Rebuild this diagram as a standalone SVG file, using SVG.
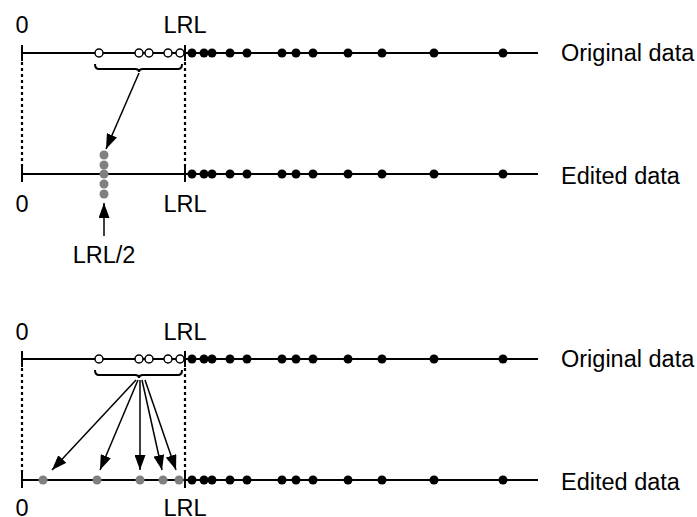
<svg xmlns="http://www.w3.org/2000/svg" width="697" height="517" viewBox="0 0 697 517">
<defs>
<style>
.ax{stroke:#000;stroke-width:2;fill:none}
.dash{stroke:#000;stroke-width:2.2;stroke-dasharray:3 3;fill:none}
.fd{fill:#000}
.op{fill:#fff;stroke:#000;stroke-width:1.5}
.gr{fill:#808080}
.arr{stroke:#000;stroke-width:1.5;fill:none;marker-end:url(#ah)}
.t{font-family:"Liberation Sans",Arial,sans-serif;font-size:23.5px;fill:#000}
.m{text-anchor:middle}
</style>
<marker id="ah" viewBox="0 0 15 11" refX="15" refY="5.5" markerWidth="15" markerHeight="11" markerUnits="userSpaceOnUse" orient="auto">
<path d="M0,0 L15,5.5 L0,11 Z" fill="#000"/>
</marker>
<g id="fill">
<circle class="fd" cx="192" cy="0" r="4.5"/>
<circle class="fd" cx="204" cy="0" r="4.5"/>
<circle class="fd" cx="212" cy="0" r="4.5"/>
<circle class="fd" cx="230" cy="0" r="4.5"/>
<circle class="fd" cx="247" cy="0" r="4.5"/>
<circle class="fd" cx="282" cy="0" r="4.5"/>
<circle class="fd" cx="296" cy="0" r="4.5"/>
<circle class="fd" cx="313" cy="0" r="4.5"/>
<circle class="fd" cx="348" cy="0" r="4.5"/>
<circle class="fd" cx="382" cy="0" r="4.5"/>
<circle class="fd" cx="434" cy="0" r="4.5"/>
<circle class="fd" cx="503" cy="0" r="4.5"/>
</g>
<g id="open">
<circle class="op" cx="99" cy="0" r="4"/>
<circle class="op" cx="139" cy="0" r="4"/>
<circle class="op" cx="149" cy="0" r="4"/>
<circle class="op" cx="168" cy="0" r="4"/>
<circle class="op" cx="180" cy="0" r="4"/>
</g>
</defs>
<rect width="697" height="517" fill="#fff"/>

<!-- Panel 1 -->
<g id="panel1-original">
<line class="ax" x1="22" y1="53" x2="538" y2="53"/>
<line class="ax" x1="22" y1="45" x2="22" y2="61"/>
<line class="ax" x1="185" y1="45" x2="185" y2="61"/>
<use href="#open" y="53"/>
<use href="#fill" y="53"/>
<text class="t m" x="22" y="33">0</text>
<text class="t m" x="185" y="33">LRL</text>
<text class="t" x="561" y="61">Original data</text>
</g>
<g id="panel1-brace">
<path class="ax" stroke-width="1.5" d="M95,64 Q95,69 99,69 L135,69 Q139,69 139,72 Q139,69 143,69 L178,69 Q182,69 182,64"/>
</g>
<g id="panel1-edited">
<line class="ax" x1="22" y1="174" x2="538" y2="174"/>
<line class="ax" x1="22" y1="166" x2="22" y2="182"/>
<line class="ax" x1="185" y1="166" x2="185" y2="182"/>
<use href="#fill" y="174"/>
<circle class="gr" cx="104" cy="155" r="4.5"/>
<circle class="gr" cx="104" cy="165" r="4.5"/>
<circle class="gr" cx="104" cy="174" r="4.5"/>
<circle class="gr" cx="104" cy="184" r="4.5"/>
<circle class="gr" cx="104" cy="194" r="4.5"/>
<text class="t m" x="22" y="212">0</text>
<text class="t m" x="185" y="212">LRL</text>
<text class="t" x="561" y="184">Edited data</text>
</g>
<g id="panel1-half">
<text class="t m" x="104" y="263">LRL/2</text>
</g>

<!-- Panel 2 -->
<g id="panel2-original">
<line class="ax" x1="22" y1="359" x2="538" y2="359"/>
<line class="ax" x1="22" y1="351" x2="22" y2="367"/>
<line class="ax" x1="185" y1="351" x2="185" y2="367"/>
<use href="#open" y="359"/>
<use href="#fill" y="359"/>
<text class="t m" x="22" y="340">0</text>
<text class="t m" x="185" y="340">LRL</text>
<text class="t" x="561" y="367">Original data</text>
</g>
<g id="panel2-brace">
<path class="ax" stroke-width="1.5" d="M95,370 Q95,375 99,375 L135,375 Q139,375 139,378 Q139,375 143,375 L178,375 Q182,375 182,370"/>
</g>
<g id="panel2-edited">
<line class="ax" x1="22" y1="480" x2="538" y2="480"/>
<line class="ax" x1="22" y1="472" x2="22" y2="488"/>
<line class="ax" x1="185" y1="472" x2="185" y2="488"/>
<use href="#fill" y="480"/>
<circle class="gr" cx="43" cy="480" r="4.5"/>
<circle class="gr" cx="97" cy="480" r="4.5"/>
<circle class="gr" cx="140" cy="480" r="4.5"/>
<circle class="gr" cx="163" cy="480" r="4.5"/>
<circle class="gr" cx="179" cy="480" r="4.5"/>
<text class="t m" x="22" y="516">0</text>
<text class="t m" x="185" y="516">LRL</text>
<text class="t" x="561" y="490">Edited data</text>
</g>

<!-- Connectors -->
<g id="connectors">
<line class="dash" x1="22" y1="62" x2="22" y2="166"/>
<line class="dash" x1="185" y1="62" x2="185" y2="166"/>
<line class="dash" x1="22" y1="368" x2="22" y2="472"/>
<line class="dash" x1="185" y1="368" x2="185" y2="472"/>
<line class="arr" x1="139" y1="73" x2="106" y2="149"/>
<line class="arr" x1="104" y1="236" x2="104" y2="203"/>
<line class="arr" x1="136" y1="380" x2="52" y2="470"/>
<line class="arr" x1="138" y1="380" x2="100" y2="470"/>
<line class="arr" x1="140" y1="380" x2="140" y2="470"/>
<line class="arr" x1="142" y1="380" x2="162" y2="470"/>
<line class="arr" x1="145" y1="380" x2="176" y2="470"/>
</g>
</svg>
